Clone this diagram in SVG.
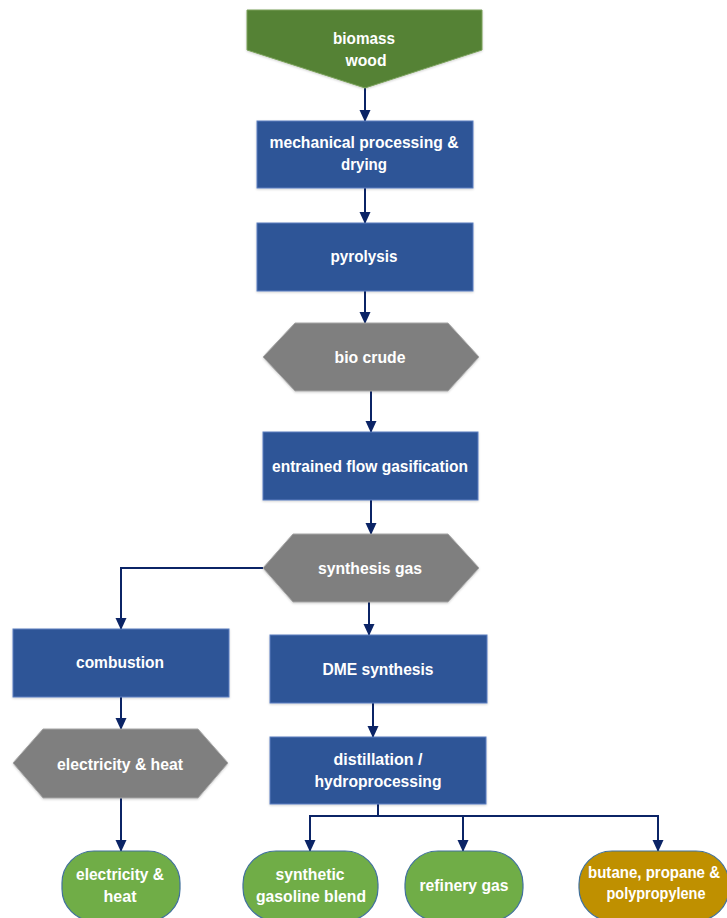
<svg xmlns="http://www.w3.org/2000/svg" width="727" height="918" viewBox="0 0 727 918">
<defs>
<marker id="ah" markerWidth="12" markerHeight="13" refX="12" refY="6" orient="auto" markerUnits="userSpaceOnUse" viewBox="0 0 13 12">
<path d="M0,0 L13,6 L0,12 Z" fill="#0b2466"/>
</marker>
<filter id="sh" x="-5%" y="-5%" width="110%" height="115%">
<feGaussianBlur in="SourceAlpha" stdDeviation="1.2"/>
<feOffset dx="0" dy="1" result="b"/>
<feFlood flood-color="#000" flood-opacity="0.18"/>
<feComposite in2="b" operator="in"/>
<feMerge><feMergeNode/><feMergeNode in="SourceGraphic"/></feMerge>
</filter>
</defs>
<style>
.proc{fill:#2f5597;stroke:#5b7fc0;stroke-width:1;filter:url(#sh)}
.hex{fill:#7f7f7f;stroke:#a6a6a6;stroke-width:1;filter:url(#sh)}
.term{fill:#70ad47;stroke:#41719c;stroke-width:1.2}
.term2{fill:#bf9000;stroke:#41719c;stroke-width:1.2}
.src{fill:#548235;stroke:#7aa05a;stroke-width:1;filter:url(#sh)}
text{font-family:"Liberation Sans",Arial,sans-serif;font-weight:bold;font-size:16px;fill:#ffffff;text-anchor:middle}
.conn{fill:none;stroke:#0b2466;stroke-width:2;marker-end:url(#ah)}
</style>
<g id="connectors">
<path class="conn" d="M365,88 V121"/>
<path class="conn" d="M365,188 V223"/>
<path class="conn" d="M365,291 V323"/>
<path class="conn" d="M371,391 V432"/>
<path class="conn" d="M371,500 V534"/>
<path class="conn" d="M263,568 H121 V629"/>
<path class="conn" d="M369,602 V635"/>
<path class="conn" d="M121,697 V729"/>
<path class="conn" d="M373,703 V737"/>
<path class="conn" d="M121,798 V851"/>
<path class="conn" d="M378,804 V816 H310 V851"/>
<path class="conn" d="M378,816 H463 V851"/>
<path class="conn" d="M463,816 H658 V851"/>
</g>
<g id="biomass">
<path class="src" d="M247,10 H482 V50 L365,88 L247,50 Z"/>
<text x="364" y="44" textLength="62" lengthAdjust="spacingAndGlyphs">biomass</text>
<text x="366" y="66" textLength="41" lengthAdjust="spacingAndGlyphs">wood</text>
</g>
<g id="mech">
<rect class="proc" x="257" y="121" width="216" height="67"/>
<text x="364" y="148" textLength="189" lengthAdjust="spacingAndGlyphs">mechanical processing &amp;</text>
<text x="364" y="170" textLength="46" lengthAdjust="spacingAndGlyphs">drying</text>
</g>
<g id="pyrolysis">
<rect class="proc" x="257" y="223" width="216" height="68"/>
<text x="364" y="262" textLength="67" lengthAdjust="spacingAndGlyphs">pyrolysis</text>
</g>
<g id="biocrude">
<path class="hex" d="M263,357 L295,323 H448 L479,357 L448,391 H295 Z"/>
<text x="370" y="363" textLength="71" lengthAdjust="spacingAndGlyphs">bio crude</text>
</g>
<g id="gasification">
<rect class="proc" x="263" y="432" width="215" height="68"/>
<text x="370" y="472" textLength="196" lengthAdjust="spacingAndGlyphs">entrained flow gasification</text>
</g>
<g id="syngas">
<path class="hex" d="M263,568 L293,534 H448 L479,568 L448,602 H293 Z"/>
<text x="370" y="574" textLength="104" lengthAdjust="spacingAndGlyphs">synthesis gas</text>
</g>
<g id="combustion">
<rect class="proc" x="13" y="629" width="216" height="68"/>
<text x="120" y="668" textLength="88" lengthAdjust="spacingAndGlyphs">combustion</text>
</g>
<g id="dme">
<rect class="proc" x="270" y="635" width="217" height="68"/>
<text x="378" y="675" textLength="111" lengthAdjust="spacingAndGlyphs">DME synthesis</text>
</g>
<g id="elecheat-hex">
<path class="hex" d="M13,763 L43,729 H198 L228,763 L198,798 H43 Z"/>
<text x="120" y="770" textLength="126" lengthAdjust="spacingAndGlyphs">electricity &amp; heat</text>
</g>
<g id="distillation">
<rect class="proc" x="270" y="737" width="216" height="67"/>
<text x="378" y="765" textLength="89" lengthAdjust="spacingAndGlyphs">distillation /</text>
<text x="378" y="787" textLength="127" lengthAdjust="spacingAndGlyphs">hydroprocessing</text>
</g>
<g id="elecheat-out">
<rect class="term" x="62" y="851" width="118" height="70" rx="32"/>
<text x="120" y="880" textLength="88" lengthAdjust="spacingAndGlyphs">electricity &amp;</text>
<text x="120" y="902" textLength="33" lengthAdjust="spacingAndGlyphs">heat</text>
</g>
<g id="gasoline">
<rect class="term" x="243" y="851" width="135" height="70" rx="33"/>
<text x="310" y="880" textLength="69" lengthAdjust="spacingAndGlyphs">synthetic</text>
<text x="311" y="902" textLength="110" lengthAdjust="spacingAndGlyphs">gasoline blend</text>
</g>
<g id="refinerygas">
<rect class="term" x="405" y="851" width="118" height="70" rx="33"/>
<text x="464" y="891" textLength="89" lengthAdjust="spacingAndGlyphs">refinery gas</text>
</g>
<g id="butane">
<rect class="term2" x="579" y="851" width="150" height="70" rx="33"/>
<text x="654" y="878" textLength="132" lengthAdjust="spacingAndGlyphs">butane, propane &amp;</text>
<text x="656" y="899" textLength="99" lengthAdjust="spacingAndGlyphs">polypropylene</text>
</g>
</svg>
